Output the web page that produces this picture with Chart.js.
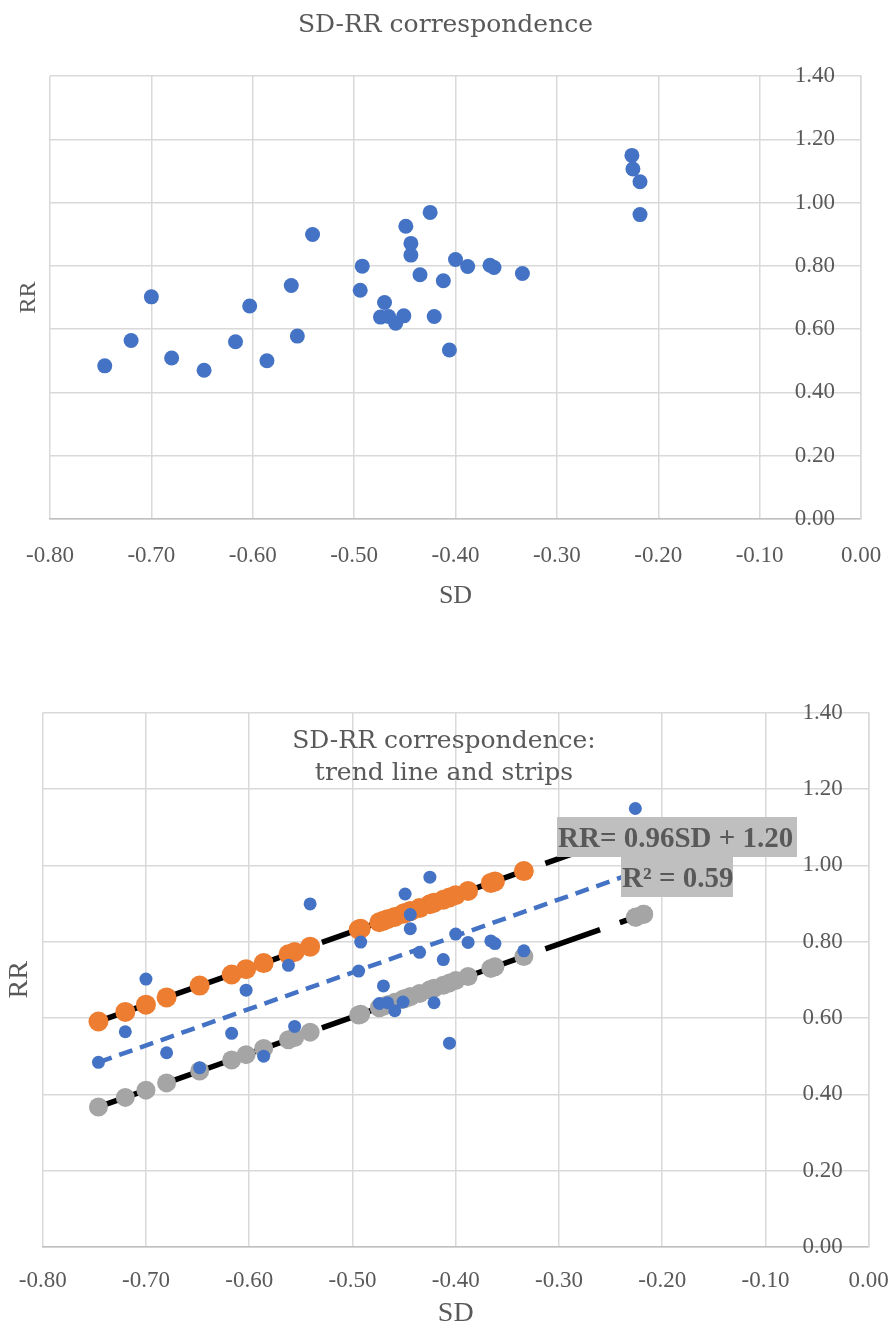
<!DOCTYPE html>
<html>
<head>
<meta charset="utf-8">
<script src="https://cdn.jsdelivr.net/npm/chart.js@4.4.1/dist/chart.umd.min.js"></script>
<style>
  html, body { margin: 0; padding: 0; background: #fff; }
  .box { position: absolute; left: 0; width: 891px; }
  #box1 { top: 0; height: 660px; }
  #box2 { top: 660px; height: 669px; }
</style>
</head>
<body>
<div class="box" id="box1"><canvas id="chart1" width="891" height="660"></canvas></div>
<div class="box" id="box2"><canvas id="chart2" width="891" height="669"></canvas></div>
<script>
// observed SD / RR pairs (same set in both charts)
const sdValues = [-0.746, -0.720, -0.700, -0.680, -0.648, -0.617, -0.603, -0.586, -0.562, -0.556,
    -0.541, -0.492, -0.494, -0.470, -0.474, -0.466, -0.459, -0.451, -0.449, -0.444,
    -0.444, -0.435, -0.425, -0.421, -0.412, -0.406, -0.400, -0.388, -0.366, -0.362,
    -0.334, -0.226, -0.225, -0.218, -0.218];
const rrValues = [0.484, 0.564, 0.702, 0.509, 0.470, 0.560, 0.673, 0.500, 0.738, 0.578,
    0.899, 0.799, 0.723, 0.684, 0.638, 0.640, 0.619, 0.642, 0.925, 0.871,
    0.834, 0.772, 0.969, 0.640, 0.753, 0.534, 0.820, 0.798, 0.802, 0.795,
    0.776, 1.149, 1.106, 1.066, 0.962];

// upper (orange) and lower (grey) strip points, same SD values
const upperStrip = [0.591, 0.616, 0.635, 0.654, 0.685, 0.714, 0.728, 0.744, 0.767, 0.773,
    0.787, 0.834, 0.832, 0.855, 0.851, 0.859, 0.865, 0.873, 0.875, 0.880,
    0.880, 0.888, 0.898, 0.902, 0.910, 0.916, 0.922, 0.933, 0.954, 0.958,
    0.985, 1.088, 1.089, 1.096, 1.096];
const lowerStrip = [0.367, 0.392, 0.411, 0.430, 0.461, 0.490, 0.504, 0.520, 0.543, 0.549,
    0.563, 0.610, 0.608, 0.631, 0.627, 0.635, 0.641, 0.649, 0.651, 0.656,
    0.656, 0.664, 0.674, 0.678, 0.686, 0.692, 0.698, 0.709, 0.730, 0.734,
    0.761, 0.864, 0.865, 0.872, 0.872];

// trend lines (end points)
const lineSD = [-0.746, -0.218];
const trendRR = [0.484, 0.989];
const upperLineRR = [0.591, 1.096];
const lowerLineRR = [0.367, 0.872];

const sdTicks = [-0.8, -0.7, -0.6, -0.5, -0.4, -0.3, -0.2, -0.1, 0];
const rrTicks = [0, 0.2, 0.4, 0.6, 0.8, 1.0, 1.2, 1.4];

const chart1Title = 'SD-RR correspondence';
const chart2Title = ['SD-RR correspondence:', 'trend line and strips'];
const eqText = 'RR= 0.96SD + 1.20';
const r2Text = 'R\u00b2 = 0.59';

const grey = '#595959';
const gridColor = '#d9d9d9';
const tickFont = { family: 'Liberation Serif', size: 23 };

function pts(xs, ys) {
    return xs.map((x, i) => ({ x: x, y: ys[i] }));
}

function makeScales(o) {
    return {
        x: {
            type: 'linear',
            min: -0.8,
            max: 0,
            afterBuildTicks: s => { s.ticks = sdTicks.map(v => ({ value: v })); },
            afterFit: s => { s.height = o.xHeight; },
            ticks: {
                autoSkip: false,
                maxRotation: 0,
                padding: 0,
                color: grey,
                font: tickFont,
                callback: v => Number(v).toFixed(2)
            },
            // invisible tick marks push the labels down without widening the side padding
            grid: { color: gridColor, lineWidth: 1.5, drawTicks: true, tickLength: o.xTickPad, tickColor: 'rgba(0,0,0,0)' },
            border: { color: '#bfbfbf', width: 1.5 },
            title: {
                display: true,
                text: 'SD',
                color: grey,
                font: { family: 'Liberation Serif', size: o.sdSize, lineHeight: 1 },
                padding: { top: 0, bottom: o.sdPad }
            }
        },
        y: {
            type: 'linear',
            position: 'right',
            min: 0,
            max: 1.4,
            afterBuildTicks: s => { s.ticks = rrTicks.map(v => ({ value: v })); },
            afterFit: s => { s.width = o.rightW; },
            ticks: {
                mirror: true,
                padding: -26,
                color: grey,
                font: tickFont,
                callback: v => Number(v).toFixed(2)
            },
            grid: { color: gridColor, lineWidth: 1.5, drawTicks: false },
            border: { color: gridColor, width: 1.5 }
        },
        yl: {
            type: 'linear',
            position: 'left',
            min: 0,
            max: 1.4,
            afterFit: s => { s.width = o.leftW; },
            ticks: { display: false },
            grid: { display: false },
            border: { display: false },
            title: {
                display: true,
                text: 'RR',
                color: grey,
                font: { family: 'Liberation Serif', size: o.rrSize, lineHeight: 1 },
                padding: { top: o.rrPad, bottom: 0 }
            }
        }
    };
}

// chart 1: plain scatter
new Chart(document.getElementById('chart1'), {
    type: 'scatter',
    data: {
        datasets: [{
            label: 'RR',
            data: pts(sdValues, rrValues),
            backgroundColor: '#4472C4',
            borderWidth: 0,
            pointRadius: 7.5
        }]
    },
    options: {
        responsive: false,
        animation: false,
        layout: { padding: 0 },
        plugins: {
            legend: { display: false },
            tooltip: { enabled: false },
            title: {
                display: true,
                text: chart1Title,
                color: grey,
                font: { family: 'DejaVu Serif', size: 25, weight: 'normal', lineHeight: 1.2 },
                padding: { top: 10.5, bottom: 35.5 }
            }
        },
        scales: makeScales({ xHeight: 141, xTickPad: 23, sdSize: 26, sdPad: 51, rightW: 30, leftW: 50, rrSize: 24, rrPad: 16.5 })
    }
});

// chart 2: title and equation label drawn over the plot
const chart2Decor = {
    id: 'chart2Decor',
    afterDraw(chart) {
        const ctx = chart.ctx;
        ctx.save();
        ctx.fillStyle = grey;
        ctx.font = '25px "DejaVu Serif"';
        ctx.textAlign = 'center';
        ctx.textBaseline = 'alphabetic';
        ctx.fillText(chart2Title[0], 444, 88);
        ctx.fillText(chart2Title[1], 444, 120);

        ctx.fillStyle = '#bfbfbf';
        ctx.fillRect(557, 157, 240, 40);
        ctx.fillRect(621, 197, 112, 40);
        ctx.fillStyle = grey;
        ctx.font = 'bold 29px "Liberation Serif"';
        ctx.textAlign = 'left';
        ctx.fillText(eqText, 558, 187);
        ctx.fillText(r2Text, 622, 227);
        ctx.restore();
    }
};

new Chart(document.getElementById('chart2'), {
    type: 'scatter',
    data: {
        datasets: [
            { label: 'RR', data: pts(sdValues, rrValues), backgroundColor: '#4472C4', borderWidth: 0, pointRadius: 6.5 },
            { label: 'upper', data: pts(sdValues, upperStrip), backgroundColor: '#ED7D31', borderWidth: 0, pointRadius: 10 },
            { label: 'lower', data: pts(sdValues, lowerStrip), backgroundColor: '#A5A5A5', borderWidth: 0, pointRadius: 9.5 },
            { label: 'trend', data: pts(lineSD, trendRR), showLine: true, pointRadius: 0, borderColor: '#4472C4', borderWidth: 4.5, borderDash: [14, 8] },
            { label: 'upper line', data: pts(lineSD, upperLineRR), showLine: true, pointRadius: 0, borderColor: '#000', borderWidth: 5.5, borderDash: [58, 21] },
            { label: 'lower line', data: pts(lineSD, lowerLineRR), showLine: true, pointRadius: 0, borderColor: '#000', borderWidth: 5.5, borderDash: [58, 21] }
        ]
    },
    options: {
        responsive: false,
        animation: false,
        layout: { padding: { top: 52.7, left: 0, right: 0, bottom: 0 } },
        plugins: {
            legend: { display: false },
            tooltip: { enabled: false },
            title: { display: false }
        },
        scales: makeScales({ xHeight: 82, xTickPad: 20, sdSize: 28, sdPad: 1, rightW: 22.3, leftW: 42.7, rrSize: 28, rrPad: 6 })
    },
    plugins: [chart2Decor]
});
</script>
</body>
</html>
